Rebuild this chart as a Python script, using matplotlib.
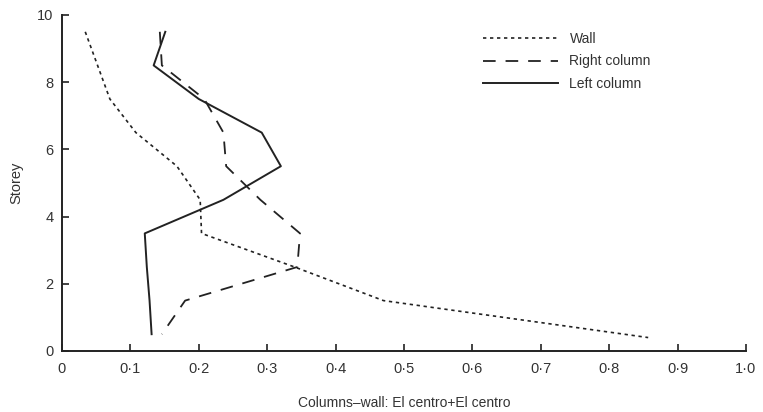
import matplotlib
matplotlib.use("Agg")
import matplotlib.pyplot as plt

plt.rcParams['font.family'] = ['Liberation Sans', 'DejaVu Sans']

# Data
wall_storey = [9.5, 8.5, 7.5, 6.5, 5.5, 4.5, 3.5, 2.5, 1.5, 0.4]
wall_x = [0.034, 0.052, 0.070, 0.108, 0.168, 0.202, 0.204, 0.340, 0.470, 0.857]

right_storey = [9.5, 8.5, 7.5, 6.5, 5.5, 4.5, 3.5, 2.5, 1.5, 0.5]
right_x = [0.143, 0.146, 0.208, 0.236, 0.240, 0.290, 0.348, 0.344, 0.180, 0.146]

left_storey = [9.5, 8.5, 7.5, 6.5, 5.5, 4.5, 3.5, 2.5, 1.5, 0.5]
left_x = [0.151, 0.134, 0.200, 0.292, 0.320, 0.236, 0.121, 0.124, 0.128, 0.131]

x_ticks = [0, 0.1, 0.2, 0.3, 0.4, 0.5, 0.6, 0.7, 0.8, 0.9, 1.0]
x_tick_labels = ['0', '0·1', '0·2', '0·3', '0·4', '0·5', '0·6', '0·7', '0·8', '0·9', '1·0']
y_ticks = [0, 2, 4, 6, 8, 10]
y_tick_labels = ['0', '2', '4', '6', '8', '10']

fig = plt.figure(figsize=(7.63, 4.12), dpi=100)
ax = fig.add_axes([62/763, 1-351/412, (746-62)/763, (351-15)/412])

col = '#222222'
ax.plot(wall_x, wall_storey, linestyle=(0, (2, 2.2)), color=col, lw=1.2, label='Wall')
ax.plot(right_x, right_storey, linestyle=(0, (7, 5.5)), color=col, lw=1.3, label='Right column')
ax.plot(left_x, left_storey, linestyle='-', color=col, lw=1.4, label='Left column')

ax.set_xlim(0, 1.0)
ax.set_ylim(0, 10)
ax.set_xticks(x_ticks)
ax.set_xticklabels(x_tick_labels)
ax.set_yticks(y_ticks)
ax.set_yticklabels(y_tick_labels)
ax.tick_params(direction='in', length=5, width=1.2, colors=col, labelsize=10.5, labelcolor='#333333')
ax.tick_params(axis='x', pad=8)
ax.tick_params(axis='y', pad=6)

for s in ['top', 'right']:
    ax.spines[s].set_visible(False)
for s in ['left', 'bottom']:
    ax.spines[s].set_linewidth(1.4)
    ax.spines[s].set_color(col)

ax.set_xlabel('Columns–wall: El centro+El centro', fontsize=10, color='#333333', labelpad=14)
ax.set_ylabel('Storey', fontsize=10.5, color='#333333', labelpad=10)

leg = ax.legend(loc='upper left', bbox_to_anchor=(0.615, 0.949), frameon=False,
                borderaxespad=0, borderpad=0,
                fontsize=10, handlelength=5.4, handletextpad=0.85, labelspacing=0.6)
for t in leg.get_texts():
    t.set_color('#333333')

fig.savefig('out.png', dpi=100, facecolor='white')
